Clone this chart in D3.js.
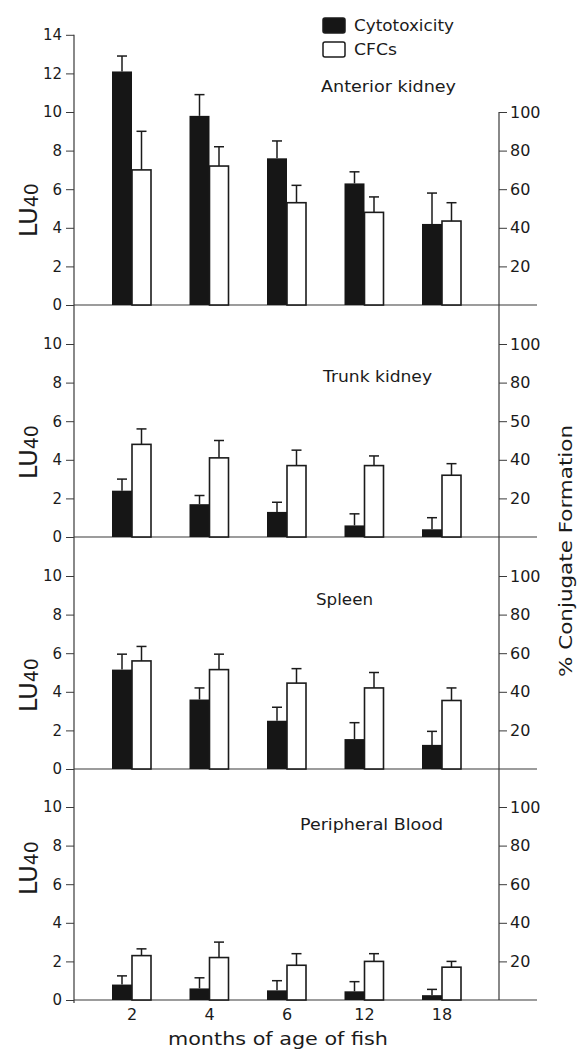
<!DOCTYPE html>
<html>
<head>
<meta charset="utf-8">
<script src="https://cdn.jsdelivr.net/npm/d3@7/dist/d3.min.js"></script>
<style>
body{margin:0;background:#fff;}
svg text{font-family:"DejaVu Sans",sans-serif;fill:#1b1b1b;}
.tick text{font-size:15px;}
.tick line{stroke:#3a3a3a;stroke-width:1;}
</style>
</head>
<body>
<svg></svg>
<script>
// months of age (x categories)
const months = ['2','4','6','12','18'];
const panel_names = ['Anterior kidney','Trunk kidney','Spleen','Peripheral Blood'];
const legend_items = ['Cytotoxicity','CFCs'];
// cytotoxicity, LU40 (left axis)
const cyto_lu = [
  [12.1, 9.8, 7.6, 6.3, 4.2],
  [2.4, 1.7, 1.3, 0.6, 0.4],
  [5.15, 3.6, 2.5, 1.55, 1.25],
  [0.8, 0.6, 0.5, 0.45, 0.25]
];
const cyto_err = [
  [0.8, 1.1, 0.9, 0.6, 1.6],
  [0.6, 0.45, 0.5, 0.6, 0.6],
  [0.8, 0.6, 0.7, 0.85, 0.7],
  [0.45, 0.55, 0.5, 0.5, 0.3]
];
// CFCs, % conjugate formation (right axis)
const cfc_pct = [
  [70, 72, 53, 48, 43.5],
  [48, 41, 37, 37, 32],
  [56, 51.5, 44.5, 42, 35.5],
  [23, 22, 18, 20, 17]
];
const cfc_err = [
  [20, 10, 9, 8, 9.5],
  [8, 9, 8, 5, 6],
  [7.5, 8, 7.5, 8, 6.5],
  [3.5, 8, 6, 4, 3]
];
// tick labels
const left_ticks = [
  [0,2,4,6,8,10,12,14],
  [0,2,4,6,8,10],
  [0,2,4,6,8,10],
  [0,2,4,6,8,10]
];
const right_ticks = [20,40,60,80,100];
const right_tick_labels = [
  ['20','40','60','80','100'],
  ['20','40','50','80','100'],
  ['20','40','60','80','100'],
  ['20','40','60','80','100']
];
const y_title = 'LU', y_title_sub = '40';
const y2_title = '% Conjugate Formation';
const x_title = 'months of age of fish';

// layout
const W = 577, H = 1051;
const ax_l = 74, ax_r = 499, base_end = 537;
const zero_y = [305, 537, 769, 1000];
const unit_h = 19.3;
const bar_w = 20;
const name_pos = [[321,92,135],[323,382,109],[316,605,57],[300,830,143]];
const lu_pos = [[37,237],[37,479],[37,712],[37,895]];

let svg = d3.select('svg').attr('width',W).attr('height',H);

let x = d3.scalePoint().domain(months).range([132, 442]);

function draw_text(p_obj,x,y,text,size,len){
  let t = p_obj.append('text').attr('x',x).attr('y',y)
    .style('font-size',size+'px').text(text);
  if(len) t.attr('textLength',len).attr('lengthAdjust','spacingAndGlyphs');
  return t;
}
function draw_line(p_obj,x1,x2,y1,y2,w=1,c='#3a3a3a'){
  return p_obj.append('line').attr('x1',x1).attr('x2',x2).attr('y1',y1).attr('y2',y2)
    .attr('stroke',c).attr('stroke-width',w);
}
// error bar: stem + cap
function draw_err(p_obj,cx,y0,y1){
  draw_line(p_obj,cx,cx,y0,y1,1.5,'#1b1b1b');
  draw_line(p_obj,cx-5,cx+5,y1,y1,1.5,'#1b1b1b');
}

// continuous axis lines
let top_lu = d3.scaleLinear().domain([0,10]).range([zero_y[0], zero_y[0]-10*unit_h]);
draw_line(svg,ax_l,ax_l,top_lu(14),zero_y[3]+3,1.2);
draw_line(svg,ax_r,ax_r,top_lu(10),zero_y[3],1.2);

panel_names.forEach((name,i)=>{
  let z = zero_y[i];
  let y_lu = d3.scaleLinear().domain([0,10]).range([z, z-10*unit_h]);
  let y_pct = d3.scaleLinear().domain([0,100]).range([z, z-10*unit_h]);
  let g = svg.append('g').attr('class','panel');

  // baseline
  draw_line(g,ax_l,base_end,z,z,1.2);

  // left axis
  let la = g.append('g').attr('transform','translate('+ax_l+',0)')
    .call(d3.axisLeft(y_lu).tickValues(left_ticks[i]).tickSize(8).tickPadding(4).tickFormat(d3.format('d')));
  la.select('.domain').remove();

  // right axis
  let ra = g.append('g').attr('transform','translate('+ax_r+',0)')
    .call(d3.axisRight(y_pct).tickValues(right_ticks).tickSize(8).tickPadding(3)
      .tickFormat((d,j)=>right_tick_labels[i][j]));
  ra.select('.domain').remove();
  ra.selectAll('.tick text').style('font-size','16px');

  // cytotoxicity bars (black)
  months.forEach((m,j)=>{
    let v = cyto_lu[i][j];
    g.append('rect').attr('x',x(m)-bar_w).attr('y',y_lu(v))
      .attr('width',bar_w).attr('height',z-y_lu(v)).attr('fill','#161616');
    draw_err(g,x(m)-bar_w/2,y_lu(v),y_lu(v+cyto_err[i][j]));
  });
  // CFC bars (white)
  months.forEach((m,j)=>{
    let v = cfc_pct[i][j];
    g.append('rect').attr('x',x(m)).attr('y',y_pct(v))
      .attr('width',bar_w-1).attr('height',z-y_pct(v))
      .attr('fill','#fff').attr('stroke','#1b1b1b').attr('stroke-width',1.6);
    draw_err(g,x(m)+(bar_w-1)/2,y_pct(v),y_pct(v+cfc_err[i][j]));
  });

  // panel name
  draw_text(g,name_pos[i][0],name_pos[i][1],name,16,name_pos[i][2]);

  // LU40 label
  let t = g.append('text').attr('transform','translate('+lu_pos[i][0]+','+lu_pos[i][1]+') rotate(-90)');
  t.append('tspan').style('font-size','24px').text(y_title);
  t.append('tspan').style('font-size','19px').attr('dy',1).text(y_title_sub);
});

// x labels
months.forEach(m=>{
  draw_text(svg,x(m),1020,m,16).attr('text-anchor','middle');
});
draw_text(svg,168,1045,x_title,18,220);

// right title
svg.append('text').attr('transform','translate(572,677) rotate(-90)')
  .style('font-size','18px').attr('textLength',252).attr('lengthAdjust','spacingAndGlyphs')
  .text(y2_title);

// legend
let lg = svg.append('g');
legend_items.forEach((d,i)=>{
  lg.append('rect').attr('x',323).attr('y',18+i*24).attr('width',22).attr('height',15).attr('rx',2)
    .attr('fill',i==0?'#161616':'#fff').attr('stroke','#1b1b1b').attr('stroke-width',1.5);
  draw_text(lg,354,31+i*24,d,15,i==0?100:43);
});
</script>
</body>
</html>
